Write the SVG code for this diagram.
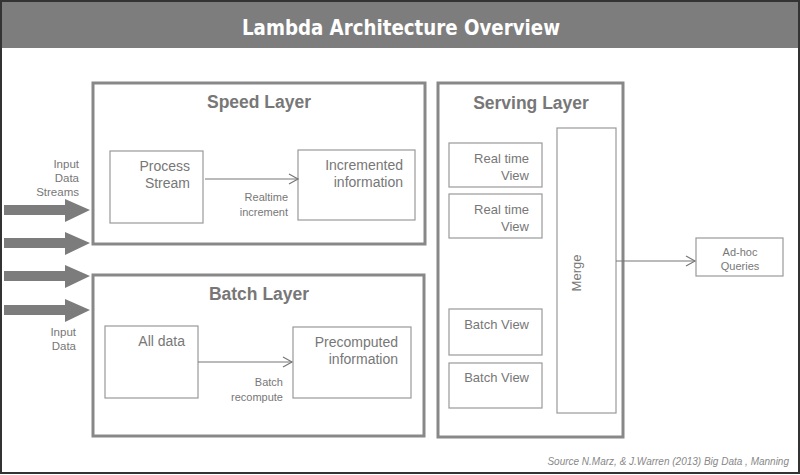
<svg xmlns="http://www.w3.org/2000/svg" width="800" height="475" viewBox="0 0 800 475">
<defs>
<style>
.layer{fill:#fff;stroke:#888;stroke-width:3}
.box{fill:#fff;stroke:#999;stroke-width:1.2}
.lt{font-family:"Liberation Sans",Arial,sans-serif;font-weight:bold;font-size:17.5px;fill:#777;text-anchor:middle}
.t{font-family:"Liberation Sans",Arial,sans-serif;font-size:14px;fill:#777;text-anchor:end}
.s{font-family:"Liberation Sans",Arial,sans-serif;font-size:11px;fill:#777;text-anchor:end}
.v{font-family:"Liberation Sans",Arial,sans-serif;font-size:13px;fill:#777;text-anchor:end}
.in{font-family:"Liberation Sans",Arial,sans-serif;font-size:11.5px;fill:#777;text-anchor:end}
.conn{stroke:#777;stroke-width:1.2;fill:none}
.big{fill:#7c7c7c}
</style>
<marker id="open" markerWidth="12" markerHeight="12" refX="10" refY="6" orient="auto" markerUnits="userSpaceOnUse">
<path d="M1,1 L10,6 L1,11" fill="none" stroke="#777" stroke-width="1.2"/>
</marker>
</defs>
<rect x="0" y="0" width="800" height="475" fill="#fff"/>
<g id="title">
<rect x="1" y="1" width="798" height="47" fill="#7d7d7d"/>
<text x="401" y="35" font-family="'DejaVu Sans Condensed','DejaVu Sans',Verdana,sans-serif" font-stretch="condensed" font-weight="bold" font-size="21" fill="#fff" text-anchor="middle" textLength="318" lengthAdjust="spacingAndGlyphs">Lambda Architecture Overview</text>
</g>
<rect x="1" y="1" width="798" height="472" fill="none" stroke="#333" stroke-width="2"/>

<g id="speed-layer">
<rect class="layer" x="93" y="83" width="332" height="161"/>
<text class="lt" x="259" y="108">Speed Layer</text>
</g>
<g id="process-stream">
<rect class="box" x="110" y="151" width="93" height="72"/>
<text class="t" x="190" y="171">Process</text>
<text class="t" x="190" y="188">Stream</text>
</g>
<g id="incremented-information">
<rect class="box" x="298" y="150" width="117" height="70"/>
<text class="t" x="403" y="170">Incremented</text>
<text class="t" x="403" y="187">information</text>
</g>

<g id="batch-layer">
<rect class="layer" x="93" y="275" width="331" height="161"/>
<text class="lt" x="259" y="300">Batch Layer</text>
</g>
<g id="all-data">
<rect class="box" x="105" y="326" width="93" height="72"/>
<text class="t" x="185" y="346">All data</text>
</g>
<g id="precomputed-information">
<rect class="box" x="293" y="327" width="118" height="71"/>
<text class="t" x="398" y="347">Precomputed</text>
<text class="t" x="398" y="364">information</text>
</g>

<g id="serving-layer">
<rect class="layer" x="438" y="83" width="185" height="354"/>
<text class="lt" x="531" y="109">Serving Layer</text>
</g>
<g id="realtime-view-1">
<rect class="box" x="449" y="143" width="93" height="44"/>
<text class="v" x="529" y="163">Real time</text>
<text class="v" x="529" y="180">View</text>
</g>
<g id="realtime-view-2">
<rect class="box" x="449" y="194" width="93" height="44"/>
<text class="v" x="529" y="214">Real time</text>
<text class="v" x="529" y="231">View</text>
</g>
<g id="batch-view-1">
<rect class="box" x="449" y="309" width="93" height="46"/>
<text class="v" x="529" y="329">Batch View</text>
</g>
<g id="batch-view-2">
<rect class="box" x="449" y="363" width="93" height="45"/>
<text class="v" x="529" y="382">Batch View</text>
</g>
<g id="merge">
<rect class="box" x="557" y="128" width="59" height="285"/>
<text class="v" style="text-anchor:middle" transform="translate(581 273) rotate(-90)">Merge</text>
</g>
<g id="adhoc-queries">
<rect class="box" x="696" y="238" width="87" height="38"/>
<text class="s" style="text-anchor:middle" x="740" y="256">Ad-hoc</text>
<text class="s" style="text-anchor:middle" x="740" y="270">Queries</text>
</g>

<g id="input-labels">
<text class="in" x="79" y="168">Input</text>
<text class="in" x="79" y="182">Data</text>
<text class="in" x="79" y="196">Streams</text>
<text class="in" x="76" y="336">Input</text>
<text class="in" x="76" y="350">Data</text>
</g>

<g id="connectors">
<line class="conn" x1="205" y1="179" x2="298" y2="179" marker-end="url(#open)"/>
<text class="s" x="288" y="201">Realtime</text>
<text class="s" x="288" y="216">increment</text>
<line class="conn" x1="198" y1="362" x2="292" y2="362" marker-end="url(#open)"/>
<text class="s" x="283" y="386">Batch</text>
<text class="s" x="283" y="401">recompute</text>
<line class="conn" x1="616" y1="261" x2="695" y2="261" marker-end="url(#open)"/>
<path class="big" d="M4,205 H65 V199 L90,210 L65,222 V215 H4 Z"/>
<path class="big" d="M4,238 H65 V232 L90,243 L65,255 V248 H4 Z"/>
<path class="big" d="M4,271 H65 V265 L90,276 L65,288 V281 H4 Z"/>
<path class="big" d="M4,305 H65 V299 L90,310 L65,322 V315 H4 Z"/>
</g>

<text x="789" y="465" font-family="'Liberation Sans',Arial,sans-serif" font-style="italic" font-size="10" fill="#888" text-anchor="end">Source N.Marz, &amp; J.Warren (2013) Big Data , Manning</text>
</svg>
